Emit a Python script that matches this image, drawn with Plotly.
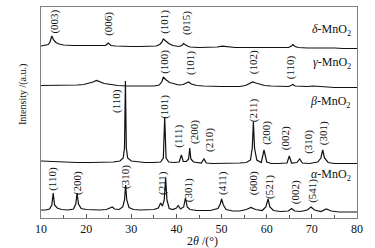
import plotly.graph_objects as go

# ---- data (2theta in degrees, intensity in arbitrary units, stacked) ----
delta_tt = [10, 11, 11.6, 12.0, 12.4, 12.8, 13.3, 14.0, 15, 17, 19, 21, 23, 24.3, 24.9, 25.5, 26.5, 28, 30, 32, 34, 35.5, 36.3, 36.8, 37.1, 37.6, 38.3, 39.2, 40.5, 41.2, 41.6, 42.2, 43, 45, 47, 49, 50.2, 51.5, 53, 55, 57, 59, 61, 63, 64.8, 65.5, 65.8, 66.3, 67, 69, 71, 73, 75, 77, 80]
delta_I = [172, 172.5, 173.5, 176, 182, 178, 175.5, 174, 173, 172.5, 172.5, 172, 172, 172.5, 175, 172.5, 172, 171.5, 171.5, 171.5, 171.5, 172, 173.5, 176, 179, 177, 174.5, 172.5, 171.5, 172.5, 174.5, 172.5, 171, 170.5, 170.5, 171, 171.8, 171, 170.5, 170.5, 170.5, 170.5, 170, 170, 170.5, 172, 173.5, 171.5, 170.5, 170, 170, 170.5, 170, 169.5, 169.5]

gamma_tt = [10, 12, 14, 16, 18, 19.5, 20.5, 21.5, 22.3, 23, 24, 25.5, 27, 29, 31, 33, 35, 36.2, 36.8, 37.1, 37.6, 38.5, 39.5, 40.5, 41.5, 42.2, 42.7, 43.3, 44.5, 46, 48, 50, 52, 54, 55.3, 56.2, 56.9, 57.6, 58.5, 59.5, 61, 63, 64.8, 65.4, 65.8, 66.3, 67.5, 69, 70.3, 71.5, 73, 75, 77, 80]
gamma_I = [132.5, 132.5, 132.5, 132.5, 133, 133.5, 134.5, 136, 137.5, 136, 134.5, 133.5, 132.5, 132, 132, 132, 132, 133, 136.5, 141, 138.5, 135.5, 134, 133, 133.5, 135, 136, 134, 132.5, 132, 131.5, 131.5, 131.5, 131.5, 132.5, 134.5, 136, 135, 133.5, 132.5, 132, 131.5, 131.5, 132.5, 133.5, 132, 131.5, 131.5, 132, 131.5, 131, 130.5, 130.5, 130.5]

beta_tt = [10, 12, 15, 18, 21, 24, 26, 27.5, 28.2, 28.5, 28.7, 28.9, 29.2, 30, 31.5, 33, 35, 36.5, 37.1, 37.4, 37.7, 38.3, 39.5, 40.6, 41.1, 41.5, 42.2, 42.7, 42.95, 43.2, 43.8, 45.5, 46.1, 46.6, 48, 50, 52, 54, 55.5, 56.4, 56.8, 57.05, 57.3, 57.8, 58.8, 59.4, 60.0, 61, 62.5, 64.5, 65.0, 65.5, 66.7, 67.3, 67.9, 69.5, 71.3, 72.0, 72.4, 72.8, 73.6, 75, 77, 80]
beta_I = [57, 56.5, 56, 55.5, 55.5, 55.5, 56, 57, 60, 70, 137, 70, 60, 57, 56, 55.5, 55.5, 56, 60, 101, 60, 56, 55.5, 56, 63, 56.5, 56.5, 59, 70, 59, 56, 55, 59, 55, 54.5, 54.5, 54.5, 55, 55.5, 58, 70, 96, 70, 58, 55.5, 68, 56, 54.5, 54.5, 55, 62, 55, 55.5, 59, 55, 54.5, 56, 60, 68, 60, 55.5, 54.5, 54.5, 54.5]

alpha_tt = [10, 11, 11.9, 12.4, 12.7, 13.0, 13.6, 14.5, 16, 17.2, 17.7, 18.0, 18.3, 18.9, 20, 21.5, 23, 24.5, 25.3, 25.8, 26.3, 27.3, 28.1, 28.5, 28.75, 29.0, 29.5, 30.5, 32, 33.5, 35, 36.0, 36.5, 36.9, 37.3, 37.6, 37.9, 38.4, 39.2, 40.0, 40.4, 40.9, 41.6, 42.0, 42.4, 43, 44.5, 46, 47.5, 49.2, 49.7, 50.0, 50.4, 51, 52.5, 54, 55.5, 56.5, 57.5, 59, 59.8, 60.3, 60.7, 61.5, 63, 64.8, 65.5, 66.2, 67.5, 69, 69.8, 70.6, 72, 73.2, 74.3, 76, 78, 80]
alpha_I = [8, 8, 9, 13, 25, 13, 10, 8.5, 8, 9, 14, 25, 14, 9.5, 8.5, 8, 8, 8.5, 10, 11, 9, 8.5, 11, 18, 33, 18, 10.5, 8.5, 8, 8, 8.5, 10, 15, 12, 18, 40, 18, 9.5, 8.5, 10, 12.5, 9, 11, 20, 11, 8.5, 7.5, 7.5, 7.5, 9.5, 14, 19, 13, 8.5, 7, 7, 8.5, 10.5, 8.5, 7.5, 11, 19, 11, 7.5, 6.5, 7, 9.5, 7, 6.5, 8, 11, 8, 6.5, 9, 7, 6, 6, 6]

series_names = ["<i>δ</i>-MnO<sub>2</sub>", "<i>γ</i>-MnO<sub>2</sub>",
                "<i>β</i>-MnO<sub>2</sub>", "<i>α</i>-MnO<sub>2</sub>"]
series_label_y = [188, 155, 116, 43]

# peak labels: (text, 2theta, intensity position)
delta_labels = [("(003)", 12.9, 196.5), ("(006)", 24.8, 194), ("(101)", 37.2, 196), ("(015)", 42.1, 195)]
gamma_labels = [("(100)", 37.2, 156), ("(101)", 43.0, 155), ("(102)", 57.0, 156), ("(110)", 65.2, 151)]
beta_labels = [("(110)", 26.6, 117), ("(101)", 37.2, 111), ("(111)", 40.3, 82), ("(200)", 43.9, 86),
               ("(210)", 47.2, 78), ("(211)", 57.0, 108), ("(200)", 59.8, 85), ("(002)", 64.1, 80),
               ("(310)", 69.1, 76), ("(301)", 72.5, 85)]
alpha_labels = [("(110)", 12.4, 39), ("(200)", 18.0, 35), ("(310)", 28.6, 41), ("(211)", 36.8, 35),
                ("(301)", 42.6, 28), ("(411)", 50.1, 35), ("(600)", 57.0, 35), ("(521)", 60.5, 31),
                ("(002)", 66.3, 26), ("(541)", 70.0, 27)]

FONT = "Liberation Serif"

fig = go.Figure()
for tt, I in [(delta_tt, delta_I), (gamma_tt, gamma_I), (beta_tt, beta_I), (alpha_tt, alpha_I)]:
    fig.add_trace(go.Scatter(x=tt, y=I, mode="lines",
                             line=dict(color="#111111", width=1.2),
                             showlegend=False, hoverinfo="skip"))

annotations = []
for group in (delta_labels, gamma_labels, beta_labels, alpha_labels):
    for txt, x, y in group:
        annotations.append(dict(x=x, y=y, xref="x", yref="y", text=txt, textangle=-90,
                                showarrow=False, font=dict(family=FONT, size=11, color="#111111"),
                                xanchor="center", yanchor="middle"))
for name, y in zip(series_names, series_label_y):
    annotations.append(dict(x=79.1, y=y, xref="x", yref="y", text=name, showarrow=False,
                            xanchor="right", yanchor="middle",
                            font=dict(family=FONT, size=12, color="#111111")))
annotations.append(dict(x=-0.057, y=124, xref="paper", yref="y", text="Intensity /(a.u.)",
                        textangle=-90, showarrow=False, xanchor="center", yanchor="middle",
                        font=dict(family=FONT, size=10, color="#111111")))
annotations.append(dict(x=45.7, y=-0.109, xref="x", yref="paper", text="2<i>θ</i> /(°)",
                        showarrow=False, xanchor="center", yanchor="middle",
                        font=dict(family=FONT, size=12, color="#111111")))

fig.update_layout(
    width=375, height=248,
    margin=dict(l=41, r=18, t=7, b=30),
    paper_bgcolor="white", plot_bgcolor="white",
    annotations=annotations,
    xaxis=dict(range=[10, 80], dtick=10, tick0=10, ticks="inside", ticklen=4,
               tickcolor="#555555", showline=True, linecolor="#808080", linewidth=1,
               mirror=True, showgrid=False, zeroline=False,
               tickfont=dict(family=FONT, size=12, color="#111111"),
               minor=dict(dtick=5, ticks="inside", ticklen=3, tickcolor="#555555")),
    yaxis=dict(range=[0, 211], showticklabels=False, ticks="", showline=True,
               linecolor="#808080", linewidth=1, mirror=True, showgrid=False, zeroline=False),
)

fig.write_html("out.html", config={"displayModeBar": False},
               post_script="document.body.style.margin='0';document.body.style.padding='0';")
